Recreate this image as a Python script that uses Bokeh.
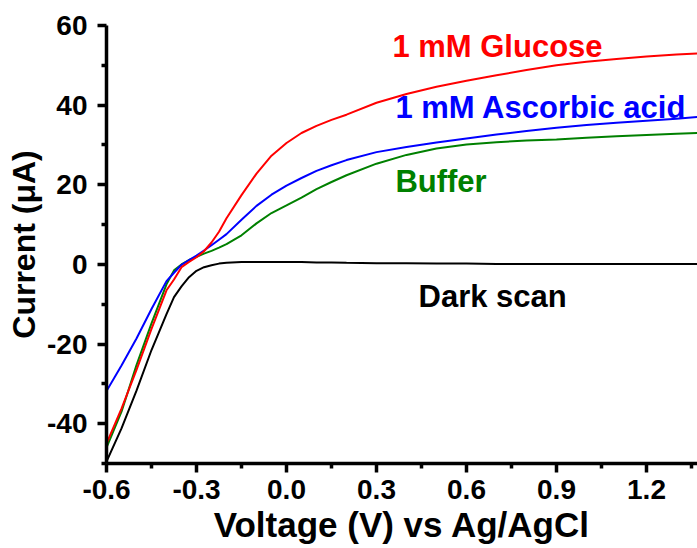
from bokeh.plotting import figure
from bokeh.models import FixedTicker, PrintfTickFormatter, Range1d
from bokeh.core.properties import value
from bokeh.embed import file_html
from bokeh.resources import INLINE

voltage = [-0.6, -0.55, -0.5, -0.45, -0.4, -0.375, -0.35, -0.325, -0.3, -0.275, -0.25, -0.225,
           -0.2, -0.15, -0.1, -0.05, 0.0, 0.05, 0.1, 0.15, 0.2, 0.3, 0.4, 0.5, 0.6, 0.7, 0.8,
           0.9, 1.0, 1.1, 1.2, 1.3, 1.37]
dark = [-49.5, -41.2, -31.7, -21.5, -12.5, -8.2, -5.5, -3.2, -1.6, -0.7, -0.2, 0.2,
        0.4, 0.6, 0.6, 0.6, 0.6, 0.6, 0.5, 0.5, 0.4, 0.3, 0.3, 0.2, 0.2, 0.1, 0.1,
        0.1, 0.1, 0.1, 0.1, 0.1, 0.1]
glucose = [-45.0, -36.2, -26.5, -16.2, -6.5, -3.8, -0.7, 0.6, 1.8, 3.3, 5.5, 8.2,
           11.6, 17.4, 22.8, 27.3, 30.5, 33.0, 34.8, 36.3, 37.6, 40.6, 42.8, 44.6, 46.1, 47.5, 48.8,
           50.0, 50.9, 51.6, 52.2, 52.7, 53.0]
ascorbic = [-31.8, -25.4, -18.6, -11.2, -4.2, -2.1, -0.1, 1.1, 2.2, 3.5, 4.8, 6.2,
            7.6, 11.2, 14.7, 17.5, 19.8, 21.7, 23.5, 24.9, 26.2, 28.2, 29.5, 30.6, 31.6, 32.6, 33.5,
            34.3, 35.0, 35.6, 36.1, 36.6, 37.0]
buffer_ = [-46.0, -37.0, -25.3, -14.8, -5.0, -1.5, 0.0, 1.1, 1.9, 2.7, 3.4, 4.2,
           5.1, 7.3, 10.3, 12.9, 14.8, 16.8, 18.9, 20.7, 22.4, 25.3, 27.5, 29.1, 30.1, 30.7, 31.1,
           31.4, 31.8, 32.2, 32.5, 32.8, 33.0]

x_major = [-0.6, -0.3, 0.0, 0.3, 0.6, 0.9, 1.2]
x_minor = [-0.45, -0.15, 0.15, 0.45, 0.75, 1.05, 1.35]
y_major = [-40, -20, 0, 20, 40, 60]
y_minor = [-50, -30, -10, 10, 30, 50]

label_texts = ["1 mM Glucose", "1 mM Ascorbic acid", "Buffer", "Dark scan"]
label_x = [0.353, 0.363, 0.363, 0.44]
label_y = [54.8, 39.5, 20.9, -8.0]
label_colors = ["#FF0000", "#0000FF", "#008000", "#000000"]

FONT = "Liberation Sans"

p = figure(width=697, height=548, output_backend="svg", toolbar_location=None,
           x_range=Range1d(-0.6, 1.37), y_range=Range1d(-50, 60),
           min_border_left=106, min_border_right=0, min_border_top=25, min_border_bottom=85)
p.outline_line_color = None
p.grid.visible = False

p.line(voltage, dark, color="#000000", line_width=2)
p.line(voltage, buffer_, color="#008000", line_width=2)
p.line(voltage, ascorbic, color="#0000FF", line_width=2)
p.line(voltage, glucose, color="#FF0000", line_width=2)

p.text(x=label_x, y=label_y, text=label_texts, text_color=label_colors,
       text_font=value(FONT), text_font_style="bold", text_font_size="31px",
       text_align="left", text_baseline="alphabetic")

for ax in (p.xaxis[0], p.yaxis[0]):
    ax.axis_line_width = 3.5
    ax.major_tick_line_width = 3.5
    ax.minor_tick_line_width = 3.5
    ax.major_tick_out = 9
    ax.major_tick_in = 0
    ax.minor_tick_out = 5
    ax.minor_tick_in = 0
    ax.major_label_text_font = FONT
    ax.major_label_text_font_style = "bold"
    ax.major_label_text_font_size = "28px"
    ax.major_label_text_color = "#000000"
    ax.axis_label_text_font = FONT
    ax.axis_label_text_font_style = "bold"
    ax.axis_label_text_color = "#000000"

p.xaxis.axis_label_text_font_size = "35px"
p.yaxis.axis_label_text_font_size = "32px"
p.xaxis.ticker = FixedTicker(ticks=x_major, minor_ticks=x_minor)
p.yaxis.ticker = FixedTicker(ticks=y_major, minor_ticks=y_minor)
p.xaxis.formatter = PrintfTickFormatter(format="%.1f")
p.yaxis.formatter = PrintfTickFormatter(format="%d")
p.xaxis.axis_label = "Voltage (V) vs Ag/AgCl"
p.yaxis.axis_label = "Current (μA)"
p.xaxis.major_label_standoff = 7
p.yaxis.major_label_standoff = 10
p.xaxis.axis_label_standoff = 3
p.yaxis.axis_label_standoff = 2
p.yaxis.bounds = (-50, 60)

open("out.html", "w").write(file_html(p, INLINE))
